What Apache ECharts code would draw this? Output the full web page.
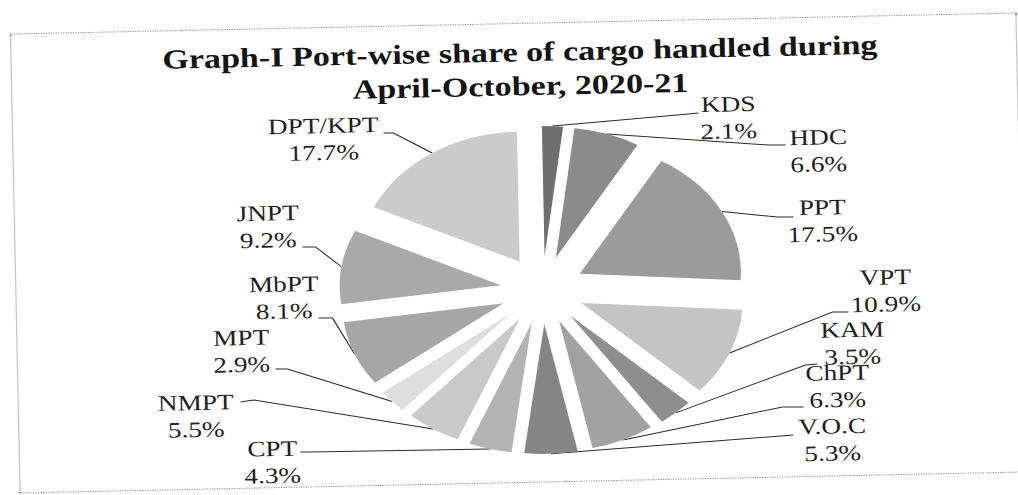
<!DOCTYPE html>
<html><head><meta charset="utf-8">
<script src="https://cdn.jsdelivr.net/npm/echarts@6/dist/echarts.min.js"></script>
<style>
html,body{margin:0;padding:0;background:#fff;width:1018px;height:495px;overflow:hidden;position:relative;}
#frame{position:absolute;left:111.5px;top:23px;width:812px;height:460px;transform-origin:50% 50%;transform:rotate(-1.2deg) scaleX(1.24);}
#chart{position:absolute;left:0;top:0;width:812px;height:460px;}
#border{position:absolute;left:0;top:0;width:812px;height:460px;box-sizing:border-box;border:1px dotted #8c8c8c;pointer-events:none;}
</style></head><body>
<div id="frame"><div id="chart"></div><div id="border"></div></div>
<script>
// ---- data ----
const ports = ['KDS','HDC','PPT','VPT','KAM','ChPT','V.O.C','CPT','NMPT','MPT','MbPT','JNPT','DPT/KPT'];
const shares = [2.1, 6.6, 17.5, 10.9, 3.5, 6.3, 5.3, 4.3, 5.5, 2.9, 8.1, 9.2, 17.7];
const titleLines = ['Graph-I Port-wise share of cargo handled during', 'April-October, 2020-21'];

// ---- style / layout ----
const sliceGreys = ['#6f6f6f','#8b8b8b','#9b9b9b','#c4c4c4','#8e8e8e','#a1a1a1','#858585','#b3b3b3','#c9c9c9','#dedede','#a6a6a6','#a9a9a9','#cbcbcb'];
const STRETCH = 1.24, TILT = 1.2 * Math.PI / 180;
const FRAME = { cx: 517.5, cy: 253, w: 812, h: 460 };
function toLocal(X, Y) {
  const dx = X - FRAME.cx, dy = Y - FRAME.cy, c = Math.cos(TILT), s = Math.sin(TILT);
  const u = dx * c - dy * s, v = dx * s + dy * c;
  return [u / STRETCH + FRAME.w / 2, v + FRAME.h / 2];
}
const PIE = { c: toLocal(542, 290), r: 130, offset: 34 };
// label block centre, leader elbow, leader end (page pixels)
const labelPlace = {
  'KDS':     [728, 117.5, 688, 114, 698, 113],
  'HDC':     [818, 150.5, 768, 145, 785, 145],
  'PPT':     [822, 220.5, 777, 217, 793, 217],
  'VPT':     [885, 290.5, 832, 312, 848, 312],
  'KAM':     [852, 343,   805, 365, 817, 364],
  'ChPT':    [837, 386,   782, 407, 803, 407],
  'V.O.C':   [832, 439.5, 780, 436, 793, 435],
  'CPT':     [272, 462,   310, 452, 300, 452],
  'NMPT':    [195.5, 416, 253, 400, 240, 402],
  'MPT':     [241, 351,   287, 369, 275, 369],
  'MbPT':    [283.5, 297.5, 332, 318, 318, 318],
  'JNPT':    [267.5, 226.5, 315, 247, 302, 247],
  'DPT/KPT': [323, 139,   393, 133, 383, 133]
};
const titlePos = toLocal(519, 35);

const total = shares.reduce((a, b) => a + b, 0);
function renderLabel(params, api) {
  const i = params.dataIndex;
  let cum = 0;
  for (let k = 0; k < i; k++) cum += shares[k];
  const mid = (90 - (cum + shares[i] / 2) / total * 360) * Math.PI / 180;
  const R = PIE.r + PIE.offset;
  const P = [PIE.c[0] + R * Math.cos(mid), PIE.c[1] - R * Math.sin(mid)];
  const L = labelPlace[ports[i]];
  const t = toLocal(L[0], L[1]), e = toLocal(L[2], L[3]), h = toLocal(L[4], L[5]);
  return {
    type: 'group',
    children: [
      { type: 'polyline', shape: { points: [P, e, h] }, style: { stroke: '#2a2a2a', lineWidth: 1, fill: null } },
      { type: 'text', x: t[0], y: t[1], style: {
          text: ports[i] + '\n' + shares[i].toFixed(1) + '%',
          fontFamily: 'Liberation Serif', fontSize: 22, lineHeight: 27,
          fill: '#1e1e1e', align: 'center', verticalAlign: 'middle' } }
    ]
  };
}

const chart = echarts.init(document.getElementById('chart'), null, { renderer: 'svg', width: 812, height: 460 });
chart.setOption({
  animation: false,
  backgroundColor: 'transparent',
  title: {
    text: titleLines.join('\n'),
    left: titlePos[0], top: titlePos[1], textAlign: 'center', padding: 0,
    textStyle: { fontFamily: 'Liberation Serif', fontSize: 27.5, fontWeight: 'bold', color: '#141414', lineHeight: 34 }
  },
  series: [
    {
      type: 'pie',
      center: PIE.c,
      radius: PIE.r,
      startAngle: 90,
      clockwise: true,
      selectedMode: 'multiple',
      selectedOffset: PIE.offset,
      label: { show: false },
      labelLine: { show: false },
      emphasis: { disabled: true },
      select: { itemStyle: { borderWidth: 0 } },
      itemStyle: { borderWidth: 0 },
      data: ports.map((p, i) => ({ name: p, value: shares[i], selected: true, itemStyle: { color: sliceGreys[i] } }))
    },
    {
      type: 'custom',
      coordinateSystem: 'none',
      renderItem: renderLabel,
      silent: true,
      data: shares
    }
  ]
});
</script>
</body></html>
